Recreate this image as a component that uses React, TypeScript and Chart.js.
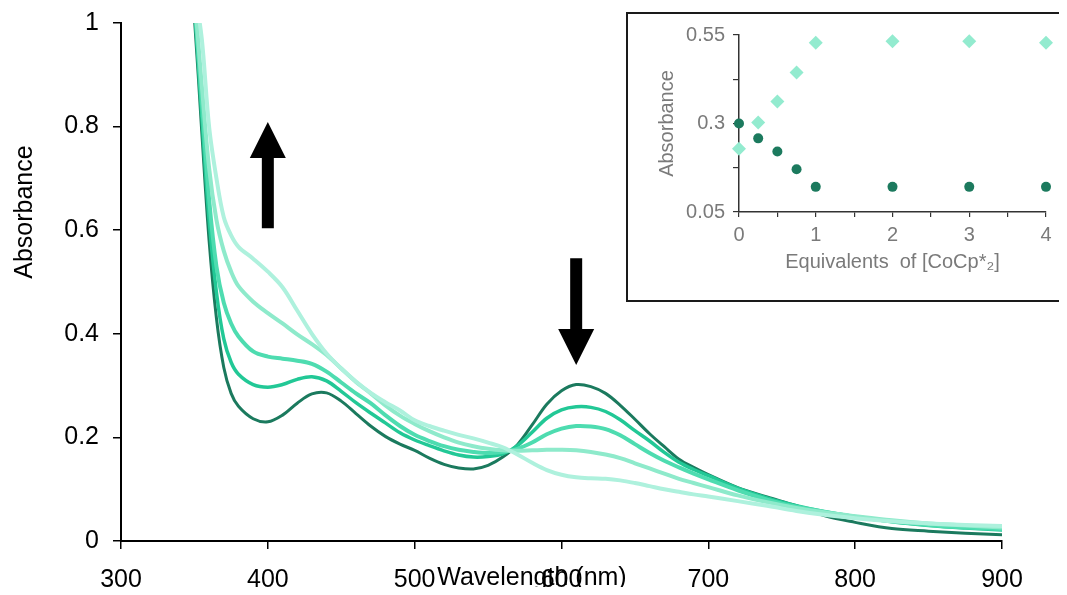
import React, { useEffect, useRef } from "react";
import { Chart, registerables } from "chart.js";

Chart.register(...registerables);

// ---------- Main spectrum data ----------
const WAVELENGTHS = [
  345, 350, 355, 360, 365, 370, 375, 380,
  390, 400, 410, 420, 430, 440, 450, 460, 470, 480,
  490, 500, 510, 520, 530, 540, 550, 560, 570, 580,
  590, 600, 610, 620, 630, 640, 650, 660, 670, 680,
  690, 700, 720, 740, 760, 780, 800, 825, 850, 875, 900,
];

const SERIES_A = [
  1.18, 1.01, 0.79, 0.58, 0.43, 0.335, 0.285, 0.26,
  0.236, 0.23, 0.243, 0.266, 0.284, 0.286, 0.27, 0.246, 0.222, 0.202,
  0.187, 0.175, 0.16, 0.148, 0.141, 0.139, 0.146, 0.162, 0.186, 0.224,
  0.264, 0.29, 0.302, 0.298, 0.285, 0.262, 0.235, 0.207, 0.182, 0.158,
  0.142, 0.128, 0.103, 0.085, 0.068, 0.048, 0.036, 0.024, 0.019, 0.015, 0.012,
];
const SERIES_B = [
  1.18, 1.03, 0.82, 0.62, 0.48, 0.39, 0.345, 0.322,
  0.302, 0.297, 0.302, 0.312, 0.317, 0.309, 0.289, 0.267, 0.247, 0.228,
  0.209, 0.195, 0.184, 0.174, 0.166, 0.162, 0.163, 0.168, 0.184, 0.21,
  0.237, 0.253, 0.259, 0.258, 0.25, 0.234, 0.213, 0.193, 0.171, 0.152,
  0.138, 0.126, 0.102, 0.083, 0.068, 0.056, 0.047, 0.037, 0.03, 0.025, 0.021,
];
const SERIES_C = [
  1.18, 1.04, 0.85, 0.66, 0.53, 0.46, 0.42, 0.395,
  0.366, 0.356, 0.352, 0.348, 0.342, 0.327, 0.306, 0.285, 0.266, 0.243,
  0.222, 0.205, 0.193, 0.183, 0.176, 0.172, 0.17, 0.172, 0.178, 0.19,
  0.206, 0.217, 0.222, 0.221, 0.216, 0.204, 0.187, 0.17, 0.155, 0.142,
  0.13, 0.119, 0.098, 0.08, 0.066, 0.056, 0.047, 0.038, 0.031, 0.026, 0.023,
];
const SERIES_D = [
  1.18, 1.05, 0.88, 0.72, 0.62, 0.56, 0.52, 0.492,
  0.462, 0.44, 0.42, 0.399, 0.38, 0.359, 0.333, 0.307, 0.285, 0.262,
  0.242, 0.226, 0.212, 0.2, 0.19, 0.183, 0.178, 0.175, 0.174, 0.175,
  0.176, 0.176, 0.175, 0.172, 0.167, 0.16, 0.15, 0.14, 0.13, 0.12,
  0.112, 0.104, 0.088, 0.075, 0.064, 0.055, 0.048, 0.04, 0.034, 0.03, 0.026,
];
const SERIES_E = [
  1.2, 1.07, 0.97, 0.8, 0.7, 0.625, 0.59, 0.568,
  0.545, 0.52, 0.49, 0.445, 0.4, 0.362, 0.333, 0.308, 0.286, 0.268,
  0.252, 0.233, 0.222, 0.213, 0.205, 0.198, 0.19, 0.181, 0.167, 0.151,
  0.137, 0.128, 0.123, 0.121, 0.12, 0.117, 0.112, 0.106, 0.1, 0.095,
  0.09, 0.086, 0.077, 0.068, 0.058, 0.05, 0.044, 0.038, 0.034, 0.031, 0.029,
];

const SERIES = [SERIES_A, SERIES_B, SERIES_C, SERIES_D, SERIES_E];
const SERIES_LABELS = ["0 equiv", "0.25 equiv", "0.5 equiv", "0.75 equiv", "1 equiv"];
const SERIES_COLORS = ["#1b7a5e", "#22c896", "#4edcb0", "#8eeacb", "#aef1dd"];
const SERIES_WIDTHS = [3, 3.5, 4, 4, 4];

// arrows (data coordinates)
const ARROW_X = [400, 610];
const ARROW_TAIL = [0.604, 0.546];
const ARROW_TIP = [0.809, 0.34];

const X_TITLE = "Wavelength (nm)";
const Y_TITLE = "Absorbance";

// ---------- Inset data ----------
const INSET_EQUIV = [0, 0.25, 0.5, 0.75, 1, 2, 3, 4];
const INSET_CIRCLES = [0.3, 0.258, 0.221, 0.171, 0.121, 0.121, 0.121, 0.121];
const INSET_DIAMONDS = [0.229, 0.303, 0.362, 0.444, 0.528, 0.532, 0.532, 0.528];
const INSET_Y_TICKS = [0.05, 0.175, 0.3, 0.425, 0.55];
const INSET_X_TITLE = "Equivalents  of [CoCp*\u2082]";
const INSET_Y_TITLE = "Absorbance";

const FONT = "'Liberation Sans', Arial, sans-serif";
const MAIN_FONT_SIZE = 25;
const INSET_FONT_SIZE = 20;
const INSET_TEXT = "#7a7a7a";

const arrowPlugin = {
  id: "arrows",
  afterDatasetsDraw(chart: any) {
    const { ctx, scales } = chart;
    const xs = scales.x;
    const ys = scales.y;
    ctx.save();
    ctx.fillStyle = "#000";
    for (let i = 0; i < ARROW_X.length; i++) {
      const px = xs.getPixelForValue(ARROW_X[i]);
      const tail = ys.getPixelForValue(ARROW_TAIL[i]);
      const tip = ys.getPixelForValue(ARROW_TIP[i]);
      const dir = tip > tail ? 1 : -1;
      const headLen = 36;
      const headHalf = 18;
      const shaftHalf = 6;
      const headBase = tip - dir * headLen;
      ctx.beginPath();
      ctx.rect(px - shaftHalf, Math.min(tail, headBase), shaftHalf * 2, Math.abs(headBase - tail));
      ctx.fill();
      ctx.beginPath();
      ctx.moveTo(px - headHalf, headBase);
      ctx.lineTo(px + headHalf, headBase);
      ctx.lineTo(px, tip);
      ctx.closePath();
      ctx.fill();
    }
    ctx.restore();
  },
};

const titlePlugin = {
  id: "mainTitles",
  afterDraw(chart: any) {
    const { ctx, chartArea } = chart;
    const w = chartArea.right - chartArea.left;
    const h = chartArea.bottom - chartArea.top;
    ctx.save();
    ctx.fillStyle = "#000";
    ctx.font = `${MAIN_FONT_SIZE}px ${FONT}`;
    ctx.textAlign = "center";
    ctx.textBaseline = "middle";
    ctx.fillText(X_TITLE, chartArea.left + w * 0.4665, chartArea.bottom + 37);
    ctx.translate(chartArea.left - 96, chartArea.top + h * 0.365);
    ctx.rotate(-Math.PI / 2);
    ctx.fillText(Y_TITLE, 0, 0);
    ctx.restore();
  },
};

export default function App() {
  const mainRef = useRef<HTMLCanvasElement>(null);
  const insetRef = useRef<HTMLCanvasElement>(null);

  useEffect(() => {
    const datasets = SERIES.map((vals, i) => ({
      label: SERIES_LABELS[i],
      data: WAVELENGTHS.map((w, j) => ({ x: w, y: vals[j] })),
      borderColor: SERIES_COLORS[i],
      backgroundColor: SERIES_COLORS[i],
      borderWidth: SERIES_WIDTHS[i],
      pointRadius: 0,
      tension: 0.35,
      borderCapStyle: "round" as const,
      borderJoinStyle: "round" as const,
      fill: false,
      order: SERIES.length - 1 - i,
    }));

    const main = new Chart(mainRef.current!, {
      type: "line",
      data: { datasets },
      options: {
        animation: false,
        responsive: false,
        events: [],
        layout: { padding: { left: 0, right: 57, top: 15, bottom: 0 } },
        plugins: { legend: { display: false }, tooltip: { enabled: false } },
        scales: {
          x: {
            type: "linear",
            min: 300,
            max: 900,
            afterFit: (s: any) => {
              s.height = 46;
              s.paddingLeft = 0;
              s.paddingRight = 0;
            },
            ticks: {
              stepSize: 100,
              color: "#000",
              padding: 16,
              font: { family: FONT, size: MAIN_FONT_SIZE },
              maxRotation: 0,
              autoSkip: false,
            },
            grid: {
              display: true,
              drawOnChartArea: false,
              drawTicks: true,
              tickLength: 8,
              color: "#000",
              lineWidth: 1.5,
            },
            border: { display: true, color: "#000", width: 2 },
          },
          y: {
            type: "linear",
            min: 0,
            max: 1,
            afterFit: (s: any) => {
              s.width = 113;
              s.paddingTop = 0;
              s.paddingBottom = 0;
            },
            ticks: {
              stepSize: 0.2,
              color: "#000",
              padding: 14,
              font: { family: FONT, size: MAIN_FONT_SIZE },
              callback: (v: any) => String(Number(Number(v).toFixed(2))),
            },
            grid: {
              display: true,
              drawOnChartArea: false,
              drawTicks: true,
              tickLength: 8,
              color: "#000",
              lineWidth: 1.5,
            },
            border: { display: true, color: "#000", width: 2 },
          },
        },
      },
      plugins: [arrowPlugin, titlePlugin],
    });

    const inset = new Chart(insetRef.current!, {
      type: "scatter",
      data: {
        datasets: [
          {
            label: "Diamonds",
            data: INSET_EQUIV.map((x, i) => ({ x, y: INSET_DIAMONDS[i] })),
            pointStyle: "rectRot",
            pointRadius: 7,
            backgroundColor: "#93ebcf",
            borderColor: "#93ebcf",
            borderWidth: 0,
            clip: false,
          },
          {
            label: "Circles",
            data: INSET_EQUIV.map((x, i) => ({ x, y: INSET_CIRCLES[i] })),
            pointStyle: "circle",
            pointRadius: 5,
            backgroundColor: "#1c7a5e",
            borderColor: "#1c7a5e",
            borderWidth: 0,
            clip: false,
          },
        ],
      },
      options: {
        animation: false,
        responsive: false,
        events: [],
        layout: { padding: { left: 0, right: 13, top: 21, bottom: 0 } },
        plugins: { legend: { display: false }, tooltip: { enabled: false } },
        scales: {
          x: {
            type: "linear",
            min: 0,
            max: 4,
            afterFit: (s: any) => {
              s.height = 88;
            },
            ticks: {
              stepSize: 0.5,
              autoSkip: false,
              maxRotation: 0,
              padding: 6,
              color: INSET_TEXT,
              font: { family: FONT, size: INSET_FONT_SIZE },
              callback: (v: any) => (Number.isInteger(Number(v)) ? String(v) : ""),
            },
            grid: {
              display: true,
              drawOnChartArea: false,
              drawTicks: true,
              tickLength: 5,
              color: "#333",
              lineWidth: 1.2,
            },
            border: { display: true, color: "#333", width: 1.5 },
            title: {
              display: true,
              text: INSET_X_TITLE,
              color: INSET_TEXT,
              font: { family: FONT, size: INSET_FONT_SIZE },
              padding: { top: 0, bottom: 26 },
            },
          },
          y: {
            type: "linear",
            min: 0.05,
            max: 0.55,
            afterFit: (s: any) => {
              s.width = 111;
            },
            afterBuildTicks: (s: any) => {
              s.ticks = INSET_Y_TICKS.map((v) => ({ value: v }));
            },
            ticks: {
              autoSkip: false,
              padding: 8,
              color: INSET_TEXT,
              font: { family: FONT, size: INSET_FONT_SIZE },
              callback: (v: any, i: number) => (i % 2 === 0 ? String(Number(Number(v).toFixed(3))) : ""),
            },
            grid: {
              display: true,
              drawOnChartArea: false,
              drawTicks: true,
              tickLength: 6,
              color: "#333",
              lineWidth: 1.2,
            },
            border: { display: true, color: "#333", width: 1.5 },
            title: {
              display: true,
              text: INSET_Y_TITLE,
              color: INSET_TEXT,
              font: { family: FONT, size: INSET_FONT_SIZE },
              padding: { top: 27, bottom: 0 },
            },
          },
        },
      },
    });

    return () => {
      main.destroy();
      inset.destroy();
    };
  }, []);

  return (
    <div style={{ position: "relative", width: 1051, height: 579 }}>
      <canvas ref={mainRef} width={1051} height={579} style={{ display: "block" }} />
      <div
        style={{
          position: "absolute",
          left: 618,
          top: 4,
          width: 435,
          height: 290,
          border: "2px solid #1a1a1a",
          boxSizing: "border-box",
          background: "#fff",
        }}
      >
        <canvas ref={insetRef} width={431} height={286} style={{ display: "block" }} />
      </div>
    </div>
  );
}
